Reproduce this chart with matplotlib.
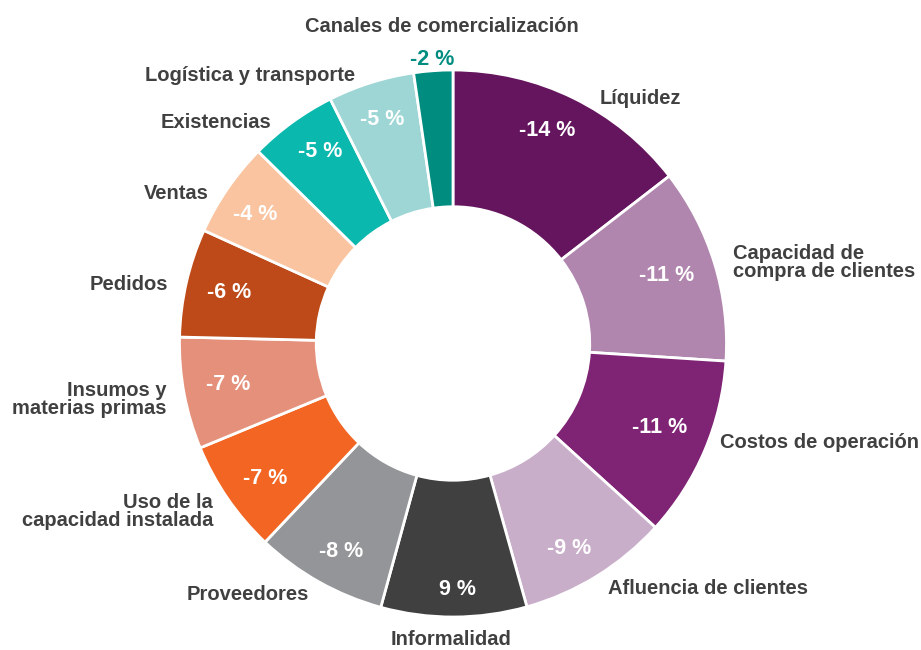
import matplotlib.pyplot as plt
import numpy as np

plt.rcParams['font.family'] = ['Liberation Sans', 'DejaVu Sans']

categorias = ['Líquidez', 'Capacidad de\ncompra de clientes', 'Costos de operación',
              'Afluencia de clientes', 'Informalidad', 'Proveedores',
              'Uso de la\ncapacidad instalada', 'Insumos y\nmaterias primas', 'Pedidos',
              'Ventas', 'Existencias', 'Logística y transporte',
              'Canales de comercialización']
variacion = [-14, -11, -11, -9, 9, -8, -7, -7, -6, -4, -5, -5, -2]
# share of the ring each slice takes
participacion = [14.5, 11.5, 10.7, 8.9, 8.6, 7.8, 6.7, 6.6, 6.4, 5.6, 5.2, 5.1, 2.3]
colores = ['#64155e', '#b085ae', '#7f2374', '#c9aec9', '#404040', '#939598',
           '#f26522', '#e5907a', '#bd4a18', '#f9c49f', '#0ab8ad', '#9dd6d4', '#008d80']

gris = '#404040'
R = 273.5  # pixels per data unit
# small hand nudges (pixels, x right / y down) for outer labels and inner values
nudge_lab = [(19, 15), (3, 4), (0, -14), (3, -2), (-3, -1), (-2, -2), (-1, 4), (-1, 3),
             (-2, 6), (-5, 14), (-11, 13), (-11, 9), (12, 2)]
nudge_pct = [(-9, -2), (-11, 1), (-10, -8), (-8, 5), (4, 11), (3, 3), (6, 2), (6, -2),
             (5, 1), (-4, 4), (6, -2), (0, 0), (0, 2)]

fig = plt.figure(figsize=(9.21, 6.5), dpi=100)
ax = fig.add_axes([0, 0, 1, 1])

wedges, _ = ax.pie(participacion, colors=colores, startangle=90, counterclock=False,
                   radius=1, wedgeprops=dict(width=0.5, edgecolor='white', linewidth=2))

for i, w in enumerate(wedges):
    ang = np.deg2rad((w.theta1 + w.theta2) / 2)
    c, s = np.cos(ang), np.sin(ang)
    dxl, dyl = nudge_lab[i][0] / R, -nudge_lab[i][1] / R
    dxp, dyp = nudge_pct[i][0] / R, -nudge_pct[i][1] / R
    txt = '%d %%' % variacion[i]
    if categorias[i].startswith('Canales'):
        ax.text(1.05 * c + dxp, 1.05 * s + dyp, txt, ha='center', va='center',
                fontsize=15.5, fontweight='bold', color=colores[i])
        ax.text(1.17 * c + dxl, 1.17 * s + dyl, categorias[i], ha='center', va='center',
                fontsize=14.5, fontweight='bold', color=gris)
        continue
    ax.text(0.86 * c + dxp, 0.86 * s + dyp, txt, ha='center', va='center', fontsize=15.5,
            fontweight='bold', color='white')
    if abs(c) < 0.1:
        ax.text(1.05 * c + dxl, 1.05 * s + dyl, categorias[i], ha='center', va='top',
                fontsize=14.5, fontweight='bold', color=gris)
    else:
        ax.text(1.06 * c + dxl, 1.06 * s + dyl, categorias[i],
                ha='left' if c > 0 else 'right', va='center', fontsize=14.5,
                fontweight='bold', color=gris, linespacing=0.95)

ax.set_xlim(-453 / R, (921 - 453) / R)
ax.set_ylim((343.5 - 650) / R, 343.5 / R)
ax.set_aspect('auto')
ax.axis('off')

fig.savefig('out.png', dpi=100)
